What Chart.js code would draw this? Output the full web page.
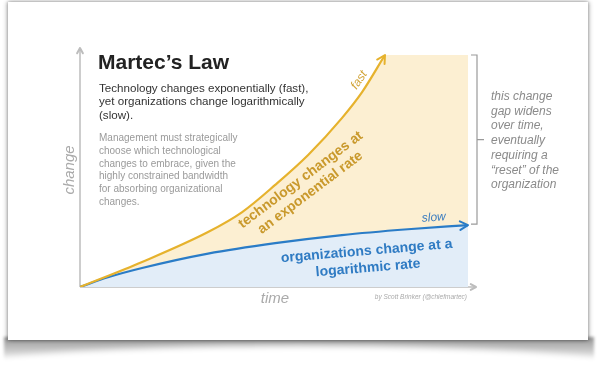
<!DOCTYPE html>
<html>
<head>
<meta charset="utf-8">
<script src="https://cdn.jsdelivr.net/npm/chart.js@4"></script>
<style>
  html, body { margin: 0; padding: 0; background: #fff; }
  body { width: 599px; height: 371px; position: relative; overflow: hidden; font-family: "Liberation Sans", Arial, sans-serif; }
  .lift { position: absolute; left: 4px; top: 337px; width: 590px; height: 27px;
          background: linear-gradient(to bottom, rgba(0,0,0,0.42), rgba(0,0,0,0.1) 75%, rgba(0,0,0,0)); filter: blur(1.5px); }
  .curve { position: absolute; left: -70px; top: 346px; width: 740px; height: 60px; border-radius: 50%; background: #fff; filter: blur(3px); }
  .card { position: absolute; left: 8px; top: 2px; width: 580px; height: 338px; background: #fff;
          box-shadow: 0 0 3px rgba(0,0,0,0.3), -2px 0 4px rgba(0,0,0,0.18), 2px 0 4px rgba(0,0,0,0.18); }
  canvas { position: absolute; left: 0; top: 0; }
</style>
</head>
<body>
<div class="lift"></div>
<div class="curve"></div>
<div class="card"></div>
<canvas id="chart" width="599" height="371"></canvas>
<script>
// tecnología: crecimiento exponencial (x = tiempo, y = cambio)
const techX = [0, 16, 33, 41.8, 50.3, 58.8, 67.5, 72.7, 78.6]
const techY = [0, 10.8, 23.7, 32.3, 44, 56.9, 72.8, 84, 100]
// organizaciones: crecimiento logarítmico
const orgX = [0, 7.2, 16, 33, 50.3, 67.5, 84.5, 100]
const orgY = [0, 4.2, 8.2, 14.4, 18.9, 22.4, 24.9, 26.7]
// tope del área amarilla
const capX = [100]
const capY = [100]

const pts = (xs, ys) => xs.map((x, i) => ({ x, y: ys[i] }))

const GOLD = "#e6b22d"
const BLUE = "#2a7cc7"
const AXIS = "#bdbdbd"

function arrowHead(ctx, x1, y1, x2, y2, color, size) {
  const a = Math.atan2(y2 - y1, x2 - x1)
  ctx.save()
  ctx.strokeStyle = color
  ctx.lineWidth = 2
  ctx.lineCap = "round"
  ctx.lineJoin = "round"
  ctx.beginPath()
  ctx.moveTo(x2 - size * Math.cos(a - 0.5), y2 - size * Math.sin(a - 0.5))
  ctx.lineTo(x2, y2)
  ctx.lineTo(x2 - size * Math.cos(a + 0.5), y2 - size * Math.sin(a + 0.5))
  ctx.stroke()
  ctx.restore()
}

function textAt(ctx, lines, x, y, opts) {
  ctx.save()
  ctx.translate(x, y)
  ctx.rotate((opts.angle || 0) * Math.PI / 180)
  ctx.font = opts.font
  ctx.fillStyle = opts.color
  ctx.textAlign = opts.align || "left"
  ctx.textBaseline = "alphabetic"
  lines.forEach((t, i) => ctx.fillText(t, 0, i * (opts.lh || 0)))
  ctx.restore()
}

const decor = {
  id: "decor",
  beforeDatasetsDraw(chart) {
    const { ctx, scales: { x, y } } = chart
    const x0 = x.getPixelForValue(0)
    const y0 = y.getPixelForValue(0)
    // ejes
    ctx.save()
    ctx.strokeStyle = AXIS
    ctx.lineWidth = 1.5
    ctx.beginPath()
    ctx.moveTo(x0, y0)
    ctx.lineTo(x0, 48)
    ctx.moveTo(x0, y0)
    ctx.lineTo(476, y0)
    ctx.stroke()
    ctx.restore()
    arrowHead(ctx, x0, y0, x0, 48, AXIS, 6)
    arrowHead(ctx, x0, y0, 476, y0, AXIS, 6)
  },
  afterDatasetsDraw(chart) {
    const { ctx, scales: { x, y } } = chart
    const px = (v) => x.getPixelForValue(v)
    const py = (v) => y.getPixelForValue(v)
    const n = techX.length
    arrowHead(ctx, px(techX[n - 2] + 3), py(techY[n - 2] + 8), px(techX[n - 1]), py(techY[n - 1]), GOLD, 9)
    const m = orgX.length
    arrowHead(ctx, px(orgX[m - 2]), py(orgY[m - 2]), px(orgX[m - 1]), py(orgY[m - 1]), BLUE, 9)

    // corchete de la derecha
    const bx = 477
    const top = py(capY[0])
    const bot = py(orgY[m - 1]) - 1
    ctx.save()
    ctx.strokeStyle = "#9a9a9a"
    ctx.lineWidth = 1.2
    ctx.beginPath()
    ctx.moveTo(bx - 6, top); ctx.lineTo(bx, top); ctx.lineTo(bx, bot); ctx.lineTo(bx - 6, bot)
    ctx.moveTo(bx, (top + bot) / 2); ctx.lineTo(bx + 7, (top + bot) / 2)
    ctx.stroke()
    ctx.restore()

    const sans = '"Liberation Sans", Arial, sans-serif'
    textAt(ctx, ["Martec\u2019s Law"], 98, 69, { font: "bold 21px " + sans, color: "#222" })
    textAt(ctx, ["Technology changes exponentially (fast),", "yet organizations change logarithmically", "(slow)."],
      99, 92, { font: "11.6px " + sans, color: "#333", lh: 13.3 })
    textAt(ctx, ["Management must strategically", "choose which technological", "changes to embrace, given the",
      "highly constrained bandwidth", "for absorbing organizational", "changes."],
      99, 141, { font: "10px " + sans, color: "#9a9a9a", lh: 12.8 })
    textAt(ctx, ["change"], 74, 170, { font: "italic 15px " + sans, color: "#aaa", align: "center", angle: -90 })
    textAt(ctx, ["time"], 275, 303, { font: "italic 15px " + sans, color: "#aaa", align: "center" })
    textAt(ctx, ["by Scott Brinker (@chiefmartec)"], 467, 299, { font: "italic 6.5px " + sans, color: "#aaa", align: "right" })
    textAt(ctx, ["fast"], 362, 82, { font: "italic 12px " + sans, color: "#d2a53a", align: "center", angle: -56 })
    textAt(ctx, ["slow"], 434, 221, { font: "italic 12px " + sans, color: "#3f7fc0", align: "center", angle: -4 })
    textAt(ctx, ["technology changes at", "an exponential rate"], 303, 183,
      { font: "bold 14px " + sans, color: "#c9992c", align: "center", angle: -37, lh: 16 })
    textAt(ctx, ["organizations change at a", "logarithmic rate"], 367, 255,
      { font: "bold 14px " + sans, color: "#2f7bc3", align: "center", angle: -4.8, lh: 17 })
    textAt(ctx, ["this change", "gap widens", "over time,", "eventually", "requiring a", "\u201creset\u201d of the", "organization"],
      491, 100, { font: "italic 12px " + sans, color: "#8a8a8a", lh: 14.7 })
  }
}

new Chart(document.getElementById("chart"), {
  type: "line",
  data: {
    datasets: [
      {
        // área amarilla (curva + tope)
        data: pts(techX.concat(capX), techY.concat(capY)),
        fill: "origin",
        backgroundColor: "#fcefd2",
        borderWidth: 0,
        pointRadius: 0,
        tension: 0,
        order: 5,
      },
      {
        data: pts(orgX, orgY),
        fill: "origin",
        backgroundColor: "#e2edf8",
        borderColor: BLUE,
        borderWidth: 2.2,
        pointRadius: 0,
        cubicInterpolationMode: "monotone",
        order: 4,
      },
      {
        data: pts(techX, techY),
        fill: false,
        borderColor: GOLD,
        borderWidth: 2.2,
        pointRadius: 0,
        cubicInterpolationMode: "monotone",
        order: 3,
      },
    ],
  },
  options: {
    responsive: false,
    animation: false,
    layout: { padding: { left: 80, right: 131, top: 55, bottom: 84 } },
    plugins: { legend: { display: false }, tooltip: { enabled: false } },
    scales: {
      x: { type: "linear", min: 0, max: 100, display: false },
      y: { min: 0, max: 100, display: false },
    },
  },
  plugins: [decor],
})
</script>
</body>
</html>
